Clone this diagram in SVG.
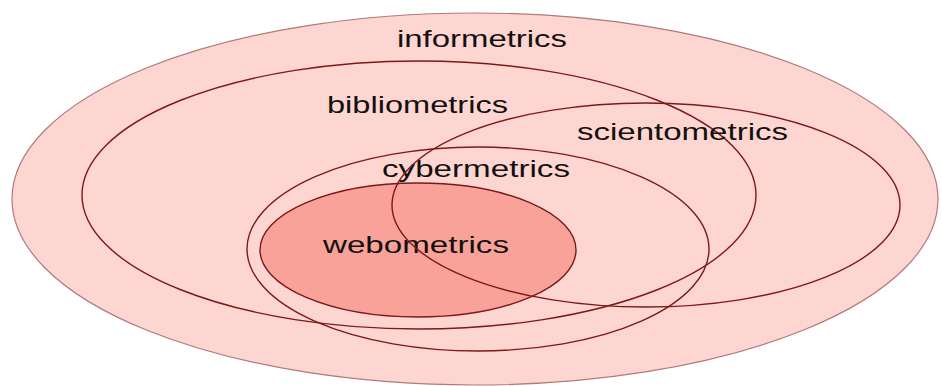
<svg xmlns="http://www.w3.org/2000/svg" width="942" height="386" viewBox="0 0 942 386">
<style>
.lbl{font-family:"Liberation Sans",Arial,sans-serif;font-size:24px;fill:#141010}
.ring{fill:#fdd6d2;stroke:#7d1818;stroke-width:1.4}
.outer{fill:#fdd6d2;stroke:#b07a7a;stroke-width:1.2}
.web{fill:#f9a29a;stroke:#7d1818;stroke-width:1.4}
.open{fill:none;stroke:#7d1818;stroke-width:1.4}
</style>
<rect width="942" height="386" fill="#ffffff"/>
<g id="informetrics">
<ellipse class="outer" cx="475" cy="199" rx="463" ry="186"/>
<text class="lbl" x="397" y="47" textLength="170" lengthAdjust="spacingAndGlyphs">informetrics</text>
</g>
<g id="bibliometrics">
<ellipse class="ring" cx="419" cy="195" rx="337" ry="134"/>
<text class="lbl" x="327" y="113" textLength="181" lengthAdjust="spacingAndGlyphs">bibliometrics</text>
</g>
<g id="cybermetrics">
<ellipse class="open" cx="478" cy="249" rx="231" ry="102"/>
<text class="lbl" x="382" y="177" textLength="188" lengthAdjust="spacingAndGlyphs">cybermetrics</text>
</g>
<g id="webometrics">
<ellipse class="web" cx="418" cy="250" rx="158" ry="67"/>
<text class="lbl" x="323" y="253" textLength="186" lengthAdjust="spacingAndGlyphs">webometrics</text>
</g>
<g id="scientometrics">
<ellipse class="open" cx="646" cy="205" rx="254" ry="102"/>
<text class="lbl" x="577" y="140" textLength="211" lengthAdjust="spacingAndGlyphs">scientometrics</text>
</g>
<g id="connectors"/>
</svg>
